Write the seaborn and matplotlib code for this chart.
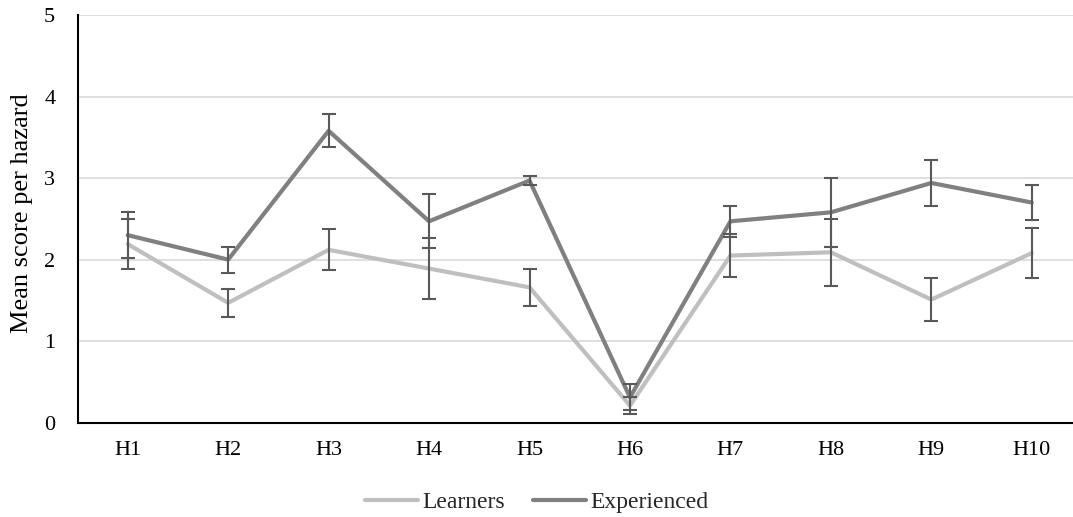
import matplotlib
matplotlib.use("Agg")
import matplotlib.pyplot as plt
import seaborn as sns
import pandas as pd
from matplotlib.lines import Line2D

categories = ["H1", "H2", "H3", "H4", "H5", "H6", "H7", "H8", "H9", "H10"]
learners = [2.19, 1.47, 2.12, 1.89, 1.66, 0.21, 2.05, 2.09, 1.51, 2.08]
learners_err = [0.31, 0.17, 0.25, 0.37, 0.23, 0.10, 0.26, 0.41, 0.26, 0.31]
experienced = [2.30, 2.00, 3.58, 2.47, 2.97, 0.31, 2.47, 2.58, 2.94, 2.70]
experienced_err = [0.28, 0.16, 0.20, 0.33, 0.06, 0.16, 0.19, 0.42, 0.28, 0.21]
series_names = ["Learners", "Experienced"]
yticks = [0, 1, 2, 3, 4, 5]

df = pd.DataFrame({
    "hazard": categories * 2,
    "score": learners + experienced,
    "group": [series_names[0]] * len(categories) + [series_names[1]] * len(categories),
})

sns.set_theme(style="white")
plt.rcParams["font.family"] = ["Liberation Serif", "DejaVu Serif"]

colors = {"Learners": "#BFBFBF", "Experienced": "#808080"}

fig = plt.figure(figsize=(10.73, 5.17), dpi=100)
ax = fig.add_axes([77.5 / 1073, 1 - 422.7 / 517, (1082 - 77.5) / 1073, (422.7 - 15) / 517])

sns.lineplot(data=df, x="hazard", y="score", hue="group", palette=colors,
             linewidth=3.0, ax=ax, legend=False, sort=False, zorder=2)

for vals, errs in [(learners, learners_err), (experienced, experienced_err)]:
    ax.errorbar(categories, vals, yerr=errs, fmt="none", ecolor="#595959",
                elinewidth=1.5, capsize=5, capthick=1.5, zorder=3)

ax.set_xlim(-0.5, len(categories) - 0.5)
ax.set_ylim(0, 5)
ax.set_yticks(yticks)
ax.yaxis.grid(True, color="#D9D9D9", linewidth=1.2)
ax.xaxis.grid(False)
ax.set_axisbelow(True)

for s in ["top", "right"]:
    ax.spines[s].set_visible(False)
for s in ["left", "bottom"]:
    ax.spines[s].set_color("black")
    ax.spines[s].set_linewidth(1.5)

ax.tick_params(axis="y", length=0, pad=16, labelsize=16, labelcolor="black")
ax.tick_params(axis="x", length=0, pad=13, labelsize=16, labelcolor="black")
ax.set_xlabel("")
ax.set_ylabel("Mean score per hazard", fontsize=19, color="black")
ax.yaxis.set_label_coords(-0.044, 0.515)

handles = [Line2D([0], [0], color=colors[n], linewidth=3.0) for n in series_names]
fig.legend(handles, series_names, loc="center", bbox_to_anchor=(0.5, 1 - 502 / 517),
           ncol=2, frameon=False, fontsize=17, handlelength=2.25, handletextpad=0.17,
           columnspacing=1.2, borderpad=0)

fig.savefig("out.png", dpi=100)
